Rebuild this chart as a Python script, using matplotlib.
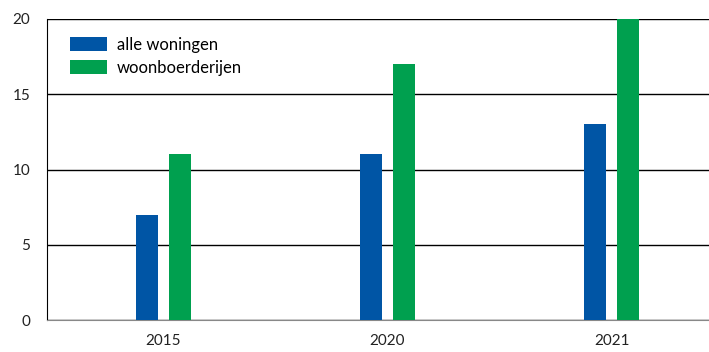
import numpy as np
import matplotlib.pyplot as plt

years = ['2015', '2020', '2021']
alle_woningen = [7, 11, 13]
woonboerderijen = [11, 17, 20]

plt.rcParams['font.family'] = ['Lato', 'DejaVu Sans']

fig = plt.figure(figsize=[7.09, 3.52], dpi=100)
ax = fig.add_axes([47/709, 32/352, 662/709, 301/352])

x = np.arange(len(years))
w = 0.098
ax.bar(x - 0.0737, alle_woningen, w, color='#0055a5', label='alle woningen', zorder=3)
ax.bar(x + 0.0737, woonboerderijen, w, color='#00a04f', label='woonboerderijen', zorder=3)

ax.set_xlim(-0.520, 2.435)
ax.set_ylim(0, 20)
ax.set_yticks([0, 5, 10, 15, 20])
ax.set_xticks(x)
ax.set_xticklabels(years)
ax.yaxis.grid(True, color='black', linewidth=1)
ax.set_axisbelow(True)
for s in ['top', 'right']:
    ax.spines[s].set_visible(False)
ax.spines['left'].set_color('black')
ax.spines['bottom'].set_color('#888888')
ax.tick_params(axis='x', length=0, pad=10, labelsize=11, colors='#222222')
ax.tick_params(axis='y', length=0, pad=12, labelsize=11, colors='#222222')

ax.legend(loc='upper left', bbox_to_anchor=(0.012, 0.99), frameon=False,
          fontsize=12, handlelength=2.2, handleheight=0.9, handletextpad=0.6,
          labelspacing=0.4)

fig.savefig('out.png', dpi=100)
